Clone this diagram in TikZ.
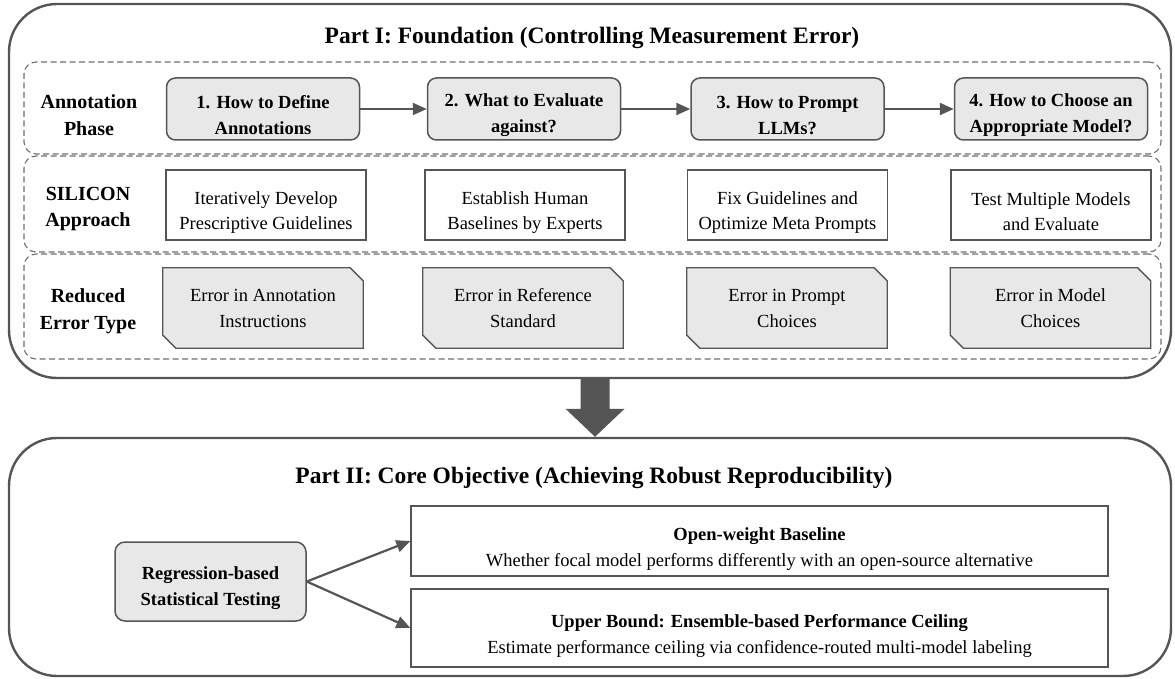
\documentclass[tikz,border=0pt]{standalone}
\usepackage{fontspec}
\setmainfont{LiberationSerif}[Extension=.ttf,UprightFont=*-Regular,BoldFont=*-Bold,ItalicFont=*-Italic,BoldItalicFont=*-BoldItalic]
\usetikzlibrary{arrows.meta,calc}
\pgfdeclarelayer{background}
\pgfsetlayers{background,main}
\definecolor{edge}{HTML}{555555}
\definecolor{boxfill}{HTML}{E8E8E8}
\definecolor{dashgray}{HTML}{6E6E6E}
% taller first line, so that the two text lines sit a little low in their box
\newcommand{\lowerby}[1]{\rule{0pt}{#1}}
\begin{document}
\begin{tikzpicture}[x=1pt,y=-1pt,
  panel/.style={draw=edge,line width=2.4pt,rounded corners=48pt,inner sep=0pt},
  band/.style={draw=dashgray,line width=1.1pt,dash pattern=on 6pt off 3.5pt,rounded corners=12pt,inner sep=0pt},
  phasebox/.style={draw=edge,fill=boxfill,line width=1.5pt,rounded corners=9pt,
    minimum width=193pt,minimum height=62pt,align=center,inner sep=0pt,
    font=\fontsize{18.5}{26}\selectfont\bfseries},
  stepbox/.style={draw=edge,fill=white,line width=1.3pt,
    minimum width=200pt,minimum height=70pt,align=center,inner sep=0pt,
    font=\fontsize{18.5}{25}\selectfont},
  errbox/.style={minimum width=200pt,minimum height=80pt,align=center,inner sep=0pt,
    font=\fontsize{18.5}{26}\selectfont},
  errshape/.style={draw=edge,fill=boxfill,line width=1.3pt,line join=miter},
  rowlabel/.style={align=center,inner sep=0pt,font=\fontsize{20}{26.5}\selectfont\bfseries},
  heading/.style={inner sep=0pt,anchor=base,font=\fontsize{23.5}{28}\selectfont\bfseries},
  flow/.style={draw=edge,line width=2.2pt,-{Triangle[length=14pt,width=12pt]}},
  goalbox/.style={draw=edge,fill=white,line width=1.3pt,minimum width=697pt,
    align=center,inner sep=0pt,font=\fontsize{18.5}{26}\selectfont},
]
\useasboundingbox (0,0) rectangle (1175,679);

% ---------- Part I ----------
\node[panel,minimum width=1162pt,minimum height=374pt] (part1) at (590,191) {};
\node[heading] (title1) at (592,43.5) {Part I: Foundation (Controlling Measurement Error)};

\node[band,minimum width=1137pt,minimum height=92pt]  (band1) at (592.5,108) {};
\node[band,minimum width=1137pt,minimum height=96pt]  (band2) at (592.5,204) {};
\node[band,minimum width=1137pt,minimum height=105pt] (band3) at (592.5,306.5) {};

\node[rowlabel] (lab1) at (89,115) {Annotation\\Phase};
\node[rowlabel] (lab2) at (88,209) {SILICON\\Approach};
\node[rowlabel] (lab3) at (88,311) {Reduced\\Error Type};

% phase questions
\node[phasebox] (q1) at (263,109)    {\lowerby{25pt}1. How to Define\\Annotations};
\node[phasebox] (q2) at (524,109)    {\lowerby{25pt}2. What to Evaluate\\against?};
\node[phasebox] (q3) at (787.5,109)  {\lowerby{25pt}3. How to Prompt\\LLMs?};
\node[phasebox] (q4) at (1051,109)   {\lowerby{25pt}4. How to Choose an\\Appropriate Model?};
\draw[flow] (q1) -- (q2);
\draw[flow] (q2) -- (q3);
\draw[flow] (q3) -- (q4);

% approach steps
\node[stepbox] (s1) at (266,205)    {\lowerby{27pt}Iteratively Develop\\Prescriptive Guidelines};
\node[stepbox] (s2) at (525,205)    {\lowerby{27pt}Establish Human\\Baselines by Experts};
\node[stepbox] (s3) at (787.5,205)  {\lowerby{27pt}Fix Guidelines and\\Optimize Meta Prompts};
\node[stepbox] (s4) at (1051,205)   {\lowerby{27pt}Test Multiple Models\\and Evaluate};

% reduced error types: text nodes, with a cut-corner card drawn behind each
\node[errbox] (e1) at (263,308)    {Error in Annotation\\Instructions};
\node[errbox] (e2) at (523,308)    {Error in Reference\\Standard};
\node[errbox] (e3) at (787,308)    {Error in Prompt\\Choices};
\node[errbox] (e4) at (1050.5,308) {Error in Model\\Choices};
\begin{pgfonlayer}{background}
  \foreach \card in {e1,e2,e3,e4}
    \path[errshape] (\card.north west) -- ($(\card.north east)+(-13,0)$)
      -- ($(\card.north east)+(0,13)$) -- (\card.south east)
      -- ($(\card.south west)+(13,0)$) -- ($(\card.south west)+(0,-13)$) -- cycle;
\end{pgfonlayer}

% ---------- Part II ----------
\node[panel,minimum width=1162pt,minimum height=238pt] (part2) at (590,557) {};
\node[heading] (title2) at (594,483) {Part II: Core Objective (Achieving Robust Reproducibility)};

% block arrow from Part I down to Part II
\coordinate (bigx) at (595,0);
\coordinate (bigtop) at (part1.south -| bigx);
\coordinate (bigtip) at (part2.north -| bigx);
\fill[edge] ($(bigtop)+(-14.5,0)$) -- ($(bigtop)+(14.5,0)$)
  -- ($(bigtip)+(14.5,-28)$) -- ($(bigtip)+(29.5,-28)$) -- (bigtip)
  -- ($(bigtip)+(-29.5,-28)$) -- ($(bigtip)+(-14.5,-28)$) -- cycle;

\node[draw=edge,fill=boxfill,line width=1.5pt,rounded corners=10pt,
  minimum width=191pt,minimum height=79pt,align=center,inner sep=0pt,
  font=\fontsize{18.5}{26}\selectfont\bfseries] (reg) at (210.5,581.5)
  {\lowerby{27pt}Regression-based\\Statistical Testing};

\node[goalbox,minimum height=70pt] (open) at (759.5,541)
  {\lowerby{29pt}\textbf{Open-weight Baseline}\\Whether focal model performs differently with an open-source alternative};
\node[goalbox,minimum height=78pt] (upper) at (759.5,628)
  {\lowerby{29pt}\textbf{Upper Bound: Ensemble-based Performance Ceiling}\\Estimate performance ceiling via confidence-routed multi-model labeling};

\draw[flow] (reg.east) -- (open.west);
\draw[flow] (reg.east) -- (upper.west);
\end{tikzpicture}
\end{document}
